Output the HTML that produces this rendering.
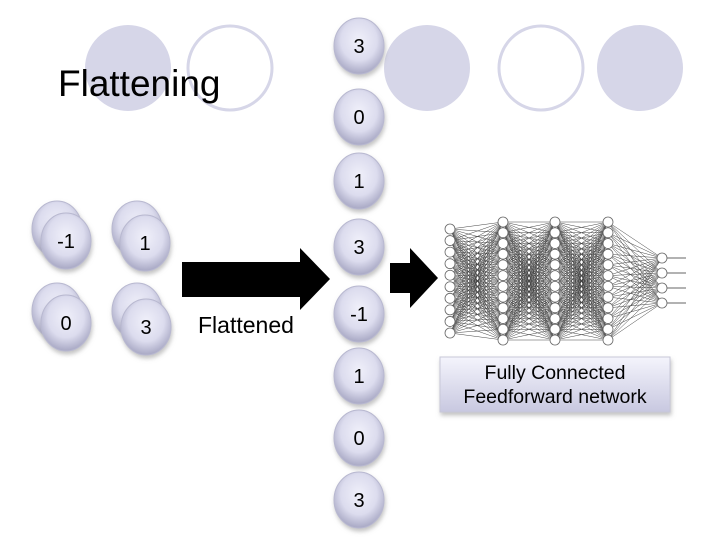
<!DOCTYPE html>
<html><head><meta charset="utf-8"><style>
html,body{margin:0;padding:0;background:#fff;}
body{width:720px;height:540px;position:relative;overflow:hidden;font-family:"Liberation Sans",sans-serif;}
svg{position:absolute;left:0;top:0;}
</style></head><body>
<svg id="s" width="720" height="540" viewBox="0 0 720 540" font-family="Liberation Sans, sans-serif">
<defs>
<radialGradient id="g" cx="50%" cy="40%" r="60%">
<stop offset="0" stop-color="#f0f0fa"/><stop offset="0.6" stop-color="#dcdcee"/><stop offset="1" stop-color="#a8a8c4"/>
</radialGradient>
<linearGradient id="bx" x1="0" y1="0" x2="0" y2="1">
<stop offset="0" stop-color="#f4f4fc"/><stop offset="1" stop-color="#c8c8e0"/>
</linearGradient>
<filter id="sh" x="-30%" y="-30%" width="160%" height="160%"><feDropShadow dx="1" dy="3" stdDeviation="2" flood-color="#888" flood-opacity="0.5"/></filter>
</defs>
<!-- decorative circles -->
<circle cx="128" cy="68" r="43" fill="#d6d6e8"/>
<circle cx="230" cy="68" r="42" fill="none" stroke="#d6d6e8" stroke-width="3"/>
<circle cx="427" cy="68" r="43" fill="#d6d6e8"/>
<circle cx="541" cy="68" r="42" fill="none" stroke="#d6d6e8" stroke-width="3"/>
<circle cx="640" cy="68" r="43" fill="#d6d6e8"/>
<text x="58" y="96" font-size="37" fill="#000">Flattening</text>
<g id="nn" stroke="#444" stroke-width="0.5" fill="none"></g>
<g id="nodes"></g>
<!-- arrows -->
<polygon points="182,262 300,262 300,248 330,279 300,310 300,297 182,297" fill="#000"/>
<polygon points="390,263 410,263 410,248 438,278 410,308 410,293 390,293" fill="#000"/>
<text x="198" y="333" font-size="23">Flattened</text>
<rect x="440" y="357" width="230" height="55" fill="url(#bx)" stroke="#c8c8d8" filter="url(#sh)"/>
<text x="555" y="379" font-size="19.5" text-anchor="middle">Fully Connected</text>
<text x="555" y="403" font-size="19.5" text-anchor="middle">Feedforward network</text>
<g id="balls"></g>
</svg>
<script>
var NS="http://www.w3.org/2000/svg";
function el(t,a,p){var e=document.createElementNS(NS,t);for(var k in a)e.setAttribute(k,a[k]);p.appendChild(e);return e;}
var balls=document.getElementById('balls');
function ball(cx,cy,txt,back){
 el('ellipse',{cx:cx,cy:cy,rx:25,ry:28,fill:'url(#g)',stroke:'#b8b8d0','stroke-width':1,filter:'url(#sh)'},balls);
 if(txt!==''){var t=el('text',{x:cx,y:cy+7,'font-size':20,'text-anchor':'middle',fill:back?'#f4f4fa':'#000'},balls);t.textContent=txt;}
}
ball(57,229,'3',true);ball(137,229,'0',true);ball(57,311,'1',true);ball(137,311,'1',true);
ball(66,241,'-1');ball(145,243,'1');ball(66,323,'0');ball(146,327,'3');
var ys=[46,117,181,247,314,376,438,500],vs=['3','0','1','3','-1','1','0','3'];
for(var i=0;i<8;i++)ball(359,ys[i],vs[i]);
var nn=document.getElementById('nn'),nodes=document.getElementById('nodes');
function layer(x,n,y0,y1){var a=[];for(var i=0;i<n;i++)a.push([x,y0+(y1-y0)*i/(n-1)]);return a;}
var L=[layer(450,10,229,333),layer(503,12,222,340),layer(555,12,222,340),layer(608,12,222,340),layer(662,4,258,303)];
for(var l=0;l<4;l++)for(var a=0;a<L[l].length;a++)for(var b=0;b<L[l+1].length;b++)
 el('line',{x1:L[l][a][0],y1:L[l][a][1],x2:L[l+1][b][0],y2:L[l+1][b][1]},nn);
L[4].forEach(function(p){el('line',{x1:p[0],y1:p[1],x2:686,y2:p[1],stroke:'#333','stroke-width':0.8},nn);});
L.forEach(function(ly){ly.forEach(function(p){el('circle',{cx:p[0],cy:p[1],r:5,fill:'#fff',stroke:'#666','stroke-width':0.8},nodes);});});
</script>
</body></html>
